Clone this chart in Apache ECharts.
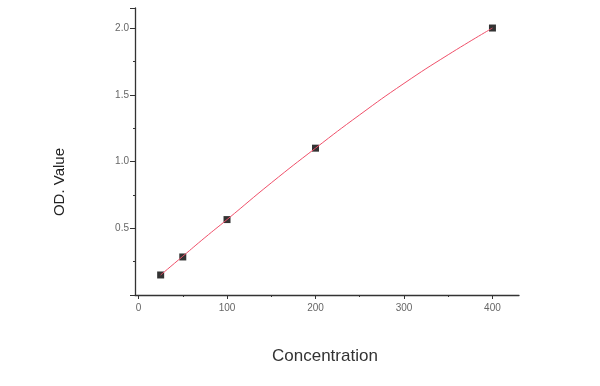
<!DOCTYPE html>
<html>
<head>
<meta charset="utf-8">
<script src="https://cdn.jsdelivr.net/npm/echarts@6/dist/echarts.min.js"></script>
<style>html,body{margin:0;padding:0;background:#fff;}#c{width:600px;height:386px;}</style>
</head>
<body>
<div id="c"></div>
<script>
// Measured standard points
var concentration = [25, 50, 100, 200, 400];
var odValue = [0.15, 0.285, 0.565, 1.10, 2.0];
// Fitted curve
var curveX = [25, 50, 75, 100, 150, 200, 250, 300, 350, 400];
var curveY = [0.15, 0.29, 0.43, 0.565, 0.84, 1.10, 1.35, 1.585, 1.80, 2.0];
// Tick labels
var xMajorTicks = [0, 100, 200, 300, 400];
var xMinorTicks = [50, 150, 250, 350];
var xTitle = 'Concentration';
var yTitle = 'OD. Value';

var chart = echarts.init(document.getElementById('c'));
var pts = concentration.map(function (x, i) { return [x, odValue[i]]; });
var curve = curveX.map(function (x, i) { return [x, curveY[i]]; });
var labelStyle = { color: '#666', fontSize: 10, fontFamily: 'Liberation Sans, Arial, sans-serif' };

chart.setOption({
  animation: false,
  backgroundColor: '#fff',
  grid: { left: 135, right: 81, top: 8, bottom: 91 },
  xAxis: [{
    type: 'value', min: -4, max: 430, position: 'bottom',
    splitLine: { show: false },
    axisLine: { onZero: false, lineStyle: { color: '#333', width: 1.3 } },
    axisTick: { show: true, length: 4, customValues: xMajorTicks, lineStyle: { color: '#333' } },
    axisLabel: Object.assign({ customValues: xMajorTicks, margin: 8 }, labelStyle)
  }, {
    type: 'value', min: -4, max: 430, position: 'bottom', offset: 0,
    splitLine: { show: false },
    axisLine: { show: false, onZero: false },
    axisTick: { show: true, length: 2, customValues: xMinorTicks, lineStyle: { color: '#333' } },
    axisLabel: { show: false }
  }],
  yAxis: {
    type: 'value', min: 0, max: 2.15, interval: 0.5,
    splitLine: { show: false },
    axisLine: { show: true, onZero: false, lineStyle: { color: '#333', width: 1.3 } },
    axisTick: { show: true, length: 5, lineStyle: { color: '#333' } },
    minorTick: { show: true, splitNumber: 2, length: 2, lineStyle: { color: '#333' } },
    axisLabel: Object.assign({ showMinLabel: false, showMaxLabel: false, margin: 6, formatter: function (v) { return v.toFixed(1); } }, labelStyle)
  },
  graphic: [{
    type: 'text', left: 272, top: 348,
    style: { text: xTitle, fontSize: 17, fill: '#333', fontFamily: 'Liberation Sans, Arial, sans-serif' }
  }, {
    type: 'text', x: 67, y: 182, rotation: Math.PI / 2,
    style: { text: yTitle, fontSize: 15, fill: '#222', fontFamily: 'Liberation Sans, Arial, sans-serif', align: 'center', verticalAlign: 'bottom' }
  }],
  series: [{
    type: 'scatter', data: pts, symbol: 'rect', symbolSize: 7,
    itemStyle: { color: '#000' }, z: 2
  }, {
    type: 'line', data: curve, smooth: 0.5, showSymbol: false,
    lineStyle: { color: '#f0506a', width: 1 }, z: 3
  }]
});
</script>
</body>
</html>
